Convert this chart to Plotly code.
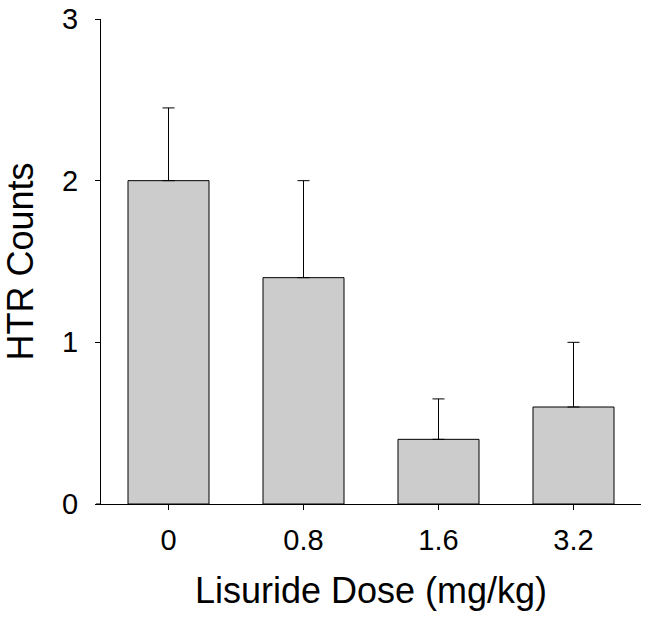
import plotly.graph_objects as go

# Lisuride dose groups (mg/kg) and mean HTR counts with upper SEM
doses = ["0", "0.8", "1.6", "3.2"]
htr_means = [2.0, 1.4, 0.4, 0.6]
htr_sem = [0.45, 0.6, 0.25, 0.4]

FONT = "Liberation Sans, Arial, sans-serif"

fig = go.Figure()
fig.add_trace(go.Bar(
    x=doses,
    y=htr_means,
    width=0.6,
    marker=dict(color="#cccccc", line=dict(color="black", width=1)),
    error_y=dict(
        type="data",
        symmetric=False,
        array=htr_sem,
        arrayminus=[0] * len(htr_sem),
        color="black",
        thickness=1,
        width=6,
    ),
))

fig.update_layout(
    width=649,
    height=619,
    margin=dict(l=101, r=8, t=19, b=115),
    plot_bgcolor="white",
    paper_bgcolor="white",
    showlegend=False,
    font=dict(family=FONT, color="black"),
)

fig.update_xaxes(
    type="category",
    range=[-0.5, 3.5],
    automargin=False,
    showline=True,
    linecolor="black",
    linewidth=1,
    ticks="outside",
    ticklen=5,
    tickcolor="black",
    tickfont=dict(size=29),
    ticklabelstandoff=5,
    showgrid=False,
    zeroline=False,
    title=dict(text="Lisuride Dose (mg/kg)", font=dict(size=36), standoff=23),
)

fig.update_yaxes(
    range=[0, 3],
    tickvals=[0, 1, 2, 3],
    automargin=False,
    showline=True,
    linecolor="black",
    linewidth=1,
    ticks="outside",
    ticklen=5,
    tickcolor="black",
    tickfont=dict(size=29),
    ticklabelstandoff=11,
    showgrid=False,
    zeroline=False,
    title=dict(text="HTR Counts", font=dict(size=36), standoff=22),
)

# x axis line runs a few px past the y axis, as in the original
fig.add_shape(type="line", xref="paper", yref="paper",
              x0=-5 / 540, x1=0, y0=0, y1=0,
              line=dict(color="black", width=1))

# drop the browser's default body margin so the figure sits at the page corner
fig.write_html(
    "out.html",
    config={"displayModeBar": False},
    post_script="document.body.style.margin = '0';",
)
